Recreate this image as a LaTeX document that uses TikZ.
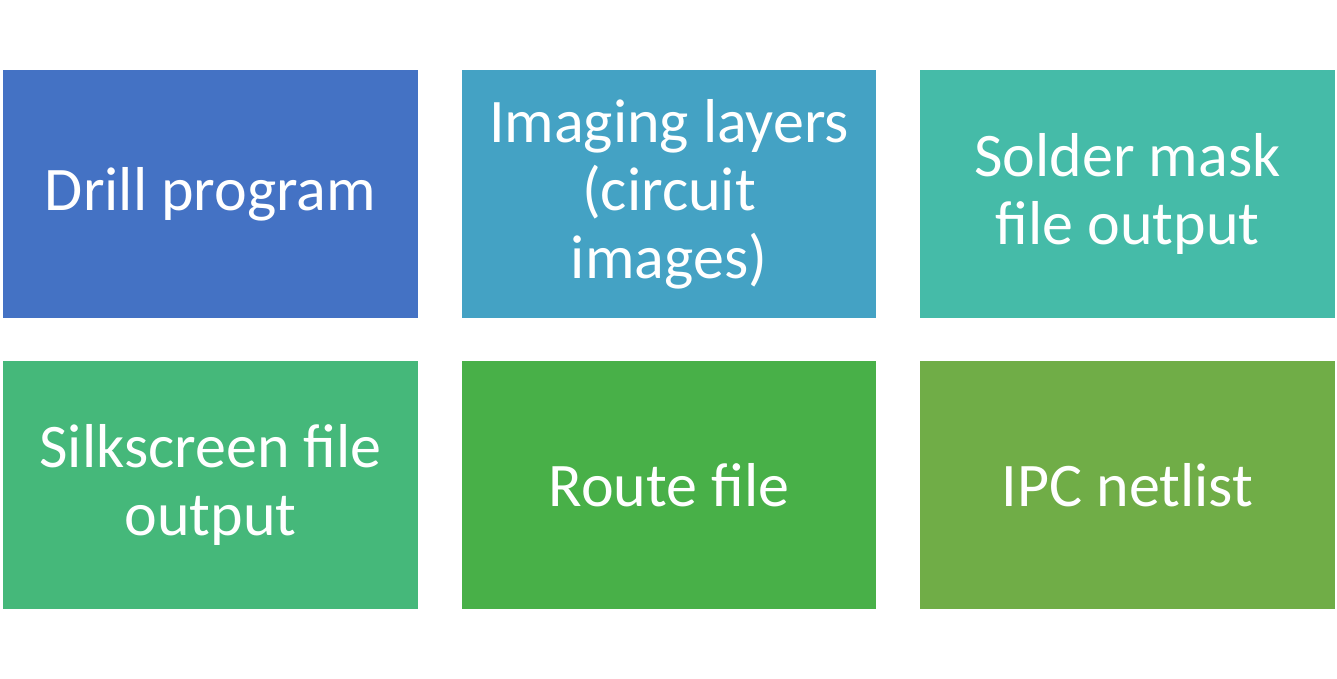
\documentclass[tikz,border=0pt]{standalone}
\usepackage{fontspec}
\setmainfont{Carlito}
\usepackage{xcolor}
\usetikzlibrary{positioning}

\definecolor{tileA}{HTML}{4472C4}
\definecolor{tileB}{HTML}{44A2C4}
\definecolor{tileC}{HTML}{45BBA8}
\definecolor{tileD}{HTML}{45B87A}
\definecolor{tileE}{HTML}{48B048}
\definecolor{tileF}{HTML}{70AD47}

\begin{document}
\begin{tikzpicture}[x=0.5pt, y=-0.5pt,
    tile/.style={minimum width=207.5pt, minimum height=124pt, inner sep=0pt,
                 text=white, align=center, font=\fontsize{31}{34}\selectfont,
                 anchor=north west, outer sep=0pt}]
  \useasboundingbox (0,0) rectangle (1337,679);
  \node[tile, fill=tileA] (drill)   at (3,70)    {Drill program};
  \node[tile, fill=tileB, minimum width=207pt] (imaging) at (462,70)  {Imaging layers\\(circuit\\images)};
  \node[tile, fill=tileC] (solder)  at (920,70)  {Solder mask\\file output};
  \node[tile, fill=tileD] (silk)    at (3,361)   {Silkscreen file\\output};
  \node[tile, fill=tileE, minimum width=207pt] (route)   at (462,361) {Route file};
  \node[tile, fill=tileF] (ipc)     at (920,361) {IPC netlist};
\end{tikzpicture}
\end{document}
